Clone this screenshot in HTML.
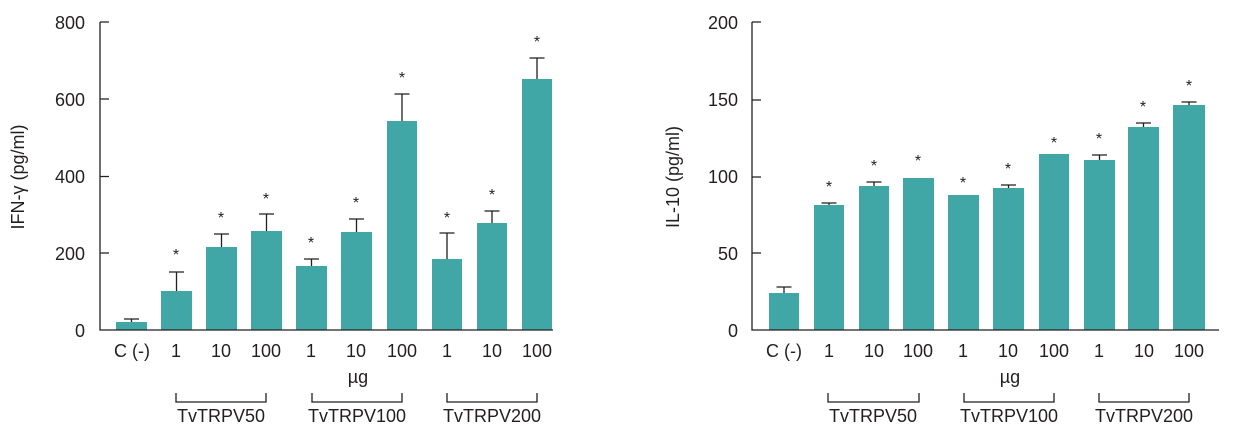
<!DOCTYPE html>
<html><head><meta charset="utf-8"><style>
html,body{margin:0;padding:0;background:#fff}
svg text{font-family:"Liberation Sans",sans-serif;fill:#231f20}
</style></head><body>
<svg width="1234" height="434" viewBox="0 0 1234 434" xmlns="http://www.w3.org/2000/svg">
<g fill="#41a6a6">
<rect x="116" y="322" width="31" height="8"/>
<rect x="161" y="291" width="31" height="39"/>
<rect x="206" y="247" width="31" height="83"/>
<rect x="251" y="231" width="31" height="99"/>
<rect x="296" y="266" width="31" height="64"/>
<rect x="341" y="232" width="31" height="98"/>
<rect x="387" y="121" width="30" height="209"/>
<rect x="432" y="259" width="30" height="71"/>
<rect x="477" y="223" width="30" height="107"/>
<rect x="522" y="79" width="30" height="251"/>
<rect x="769" y="293" width="30" height="37"/>
<rect x="814" y="205" width="30" height="125"/>
<rect x="859" y="186" width="30" height="144"/>
<rect x="903" y="178" width="31" height="152"/>
<rect x="948" y="195" width="31" height="135"/>
<rect x="993" y="188" width="31" height="142"/>
<rect x="1039" y="154" width="30" height="176"/>
<rect x="1084" y="160" width="31" height="170"/>
<rect x="1128" y="127" width="31" height="203"/>
<rect x="1173" y="105" width="32" height="225"/>
</g>
<g stroke="#231f20" stroke-width="1.3" fill="none">
<path d="M100 22V330H553M100 22h9M100 99h9M100 176.5h9M100 253h9"/>
<path d="M131.5 322v-3M124 319h15"/>
<path d="M176.5 291v-19M169 272h15"/>
<path d="M221.5 247v-13M214 234h15"/>
<path d="M266.5 231v-17M259 214h15"/>
<path d="M311.5 266v-7M304 259h15"/>
<path d="M356.5 232v-13M349 219h15"/>
<path d="M402 121v-27M394.5 94h15"/>
<path d="M447 259v-26M439.5 233h15"/>
<path d="M492 223v-12M484.5 211h15"/>
<path d="M537 79v-21M529.5 58h15"/>
<path d="M176 393v9h90v-9M312 393v9h90v-9M447 393v9h90v-9"/>
<path d="M752 22V330H1219M752 22h9M752 100h9M752 177h9M752 253h9"/>
<path d="M784 293v-6M776.5 287h15"/>
<path d="M829 205v-2M821.5 203h15"/>
<path d="M874 186v-4M866.5 182h15"/>
<path d="M1008.5 188v-3M1001 185h15"/>
<path d="M1099.5 160v-5M1092 155h15"/>
<path d="M1143.5 127v-4M1136 123h15"/>
<path d="M1189 105v-3M1181.5 102h15"/>
<path d="M828 393v9h91v-9M964 393v9h90v-9M1099 393v9h90v-9"/>
</g>
<g font-size="18" text-anchor="end">
<text x="85" y="29">800</text><text x="85" y="106">600</text><text x="85" y="183">400</text><text x="85" y="260">200</text><text x="85" y="337">0</text>
<text x="738" y="29">200</text><text x="738" y="106">150</text><text x="738" y="183">100</text><text x="738" y="260">50</text><text x="738" y="337">0</text>
</g>
<g font-size="18" text-anchor="middle">
<text x="132" y="357">C (-)</text><text x="176" y="357">1</text><text x="221" y="357">10</text><text x="266" y="357">100</text><text x="311" y="357">1</text><text x="356" y="357">10</text><text x="402" y="357">100</text><text x="447" y="357">1</text><text x="492" y="357">10</text><text x="537" y="357">100</text>
<text x="358" y="383">µg</text>
<text x="221" y="422">TvTRPV50</text><text x="357" y="422">TvTRPV100</text><text x="492" y="422">TvTRPV200</text>
<text x="784" y="357">C (-)</text><text x="829" y="357">1</text><text x="874" y="357">10</text><text x="918" y="357">100</text><text x="963" y="357">1</text><text x="1008" y="357">10</text><text x="1054" y="357">100</text><text x="1099" y="357">1</text><text x="1144" y="357">10</text><text x="1189" y="357">100</text>
<text x="1010" y="383">µg</text>
<text x="873" y="422">TvTRPV50</text><text x="1009" y="422">TvTRPV100</text><text x="1144" y="422">TvTRPV200</text>
<text transform="translate(24,177) rotate(-90)">IFN-γ (pg/ml)</text>
<text transform="translate(679,177) rotate(-90)">IL-10 (pg/ml)</text>
</g>
<g font-size="16" text-anchor="middle">
<text x="176" y="260">*</text><text x="221" y="223">*</text><text x="266" y="204">*</text><text x="311" y="248">*</text><text x="356" y="208">*</text><text x="402" y="83">*</text><text x="447" y="223">*</text><text x="492" y="200">*</text><text x="537" y="47">*</text>
<text x="829" y="192">*</text><text x="874" y="171">*</text><text x="918" y="166">*</text><text x="963" y="188">*</text><text x="1008" y="174">*</text><text x="1054" y="148">*</text><text x="1099" y="144">*</text><text x="1143" y="112">*</text><text x="1189" y="91">*</text>
</g>
</svg>
</body></html>
